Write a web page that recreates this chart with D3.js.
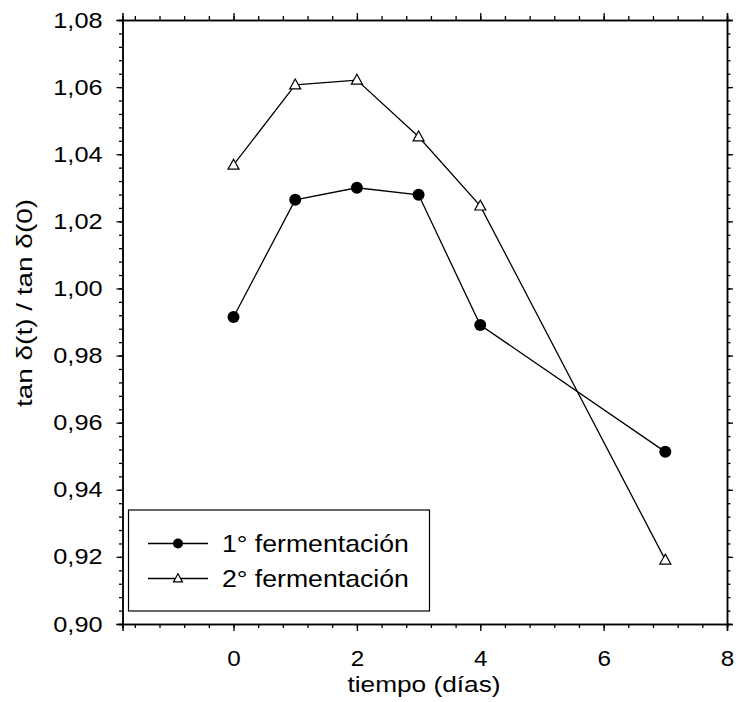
<!DOCTYPE html>
<html>
<head>
<meta charset="utf-8">
<script src="https://cdn.jsdelivr.net/npm/d3@7"></script>
<style>
  body { margin: 0; background: #fff; }
  text { font-family: "Liberation Sans", Arial, sans-serif; fill: #000; }
</style>
</head>
<body>
<svg id="chart" width="736" height="702"></svg>
<script>
// ---- data ----
const days = [0, 1, 2, 3, 4, 7];
const ferment1 = [0.9915, 1.0264, 1.0300, 1.0279, 0.9891, 0.9513];
const ferment2 = [1.0368, 1.0607, 1.0621, 1.0452, 1.0246, 0.9191];
const seriesNames = ["1° fermentación", "2° fermentación"];
const xTicks = [0, 2, 4, 6, 8];
const yTicks = [0.90, 0.92, 0.94, 0.96, 0.98, 1.00, 1.02, 1.04, 1.06, 1.08];
const xTitle = "tiempo (días)";
const yTitle = "tan δ(t) / tan δ(0)";

const svg = d3.select("#chart");
const x = d3.scaleLinear().domain([-1.8, 8]).range([122.5, 727]);
const y = d3.scaleLinear().domain([0.90, 1.08]).range([624, 20]);
const fmt = v => d3.format(".2f")(v).replace(".", ",");

const xMinor = d3.range(-1.6, 8.0001, 0.4).map(v => +v.toFixed(2));
const yMinor = d3.range(0.90, 1.0801, 0.004).map(v => +v.toFixed(3));

// axes
svg.append("g").attr("transform", `translate(0,${y(0.90)})`)
  .call(d3.axisBottom(x).tickValues(xMinor).tickSize(4).tickFormat(""));
const gB2 = svg.append("g").attr("transform", `translate(0,${y(0.90)})`)
  .call(d3.axisBottom(x).tickValues(xTicks).tickSize(7).tickPadding(19).tickFormat(d3.format("d")));
svg.append("g").attr("transform", `translate(0,${y(1.08)})`)
  .call(d3.axisTop(x).tickValues(xMinor).tickSize(4).tickFormat(""));
svg.append("g").attr("transform", `translate(0,${y(1.08)})`)
  .call(d3.axisTop(x).tickValues(xTicks).tickSize(7).tickFormat(""));
svg.append("g").attr("transform", `translate(${x(-1.8)},0)`)
  .call(d3.axisLeft(y).tickValues(yMinor).tickSize(3.5).tickFormat(""));
const gL2 = svg.append("g").attr("transform", `translate(${x(-1.8)},0)`)
  .call(d3.axisLeft(y).tickValues(yTicks).tickSize(6).tickPadding(14).tickFormat(fmt));
svg.append("g").attr("transform", `translate(${x(8)},0)`)
  .call(d3.axisRight(y).tickValues(yMinor).tickSize(3.5).tickFormat(""));
svg.append("g").attr("transform", `translate(${x(8)},0)`)
  .call(d3.axisRight(y).tickValues(yTicks).tickSize(6).tickFormat(""));

svg.selectAll(".domain").attr("stroke", "#000").attr("stroke-width", 1.5);
svg.selectAll(".tick line").attr("stroke", "#000").attr("stroke-width", 1.3);
svg.selectAll(".tick text").attr("font-size", 22).attr("fill", "#000")
  .style("font-family", "'Liberation Sans', Arial, sans-serif");

gB2.selectAll(".tick text").attr("transform", "scale(1.1,1)");
gL2.selectAll(".tick text").each(function() {
  const t = d3.select(this);
  const xx = +t.attr("x");
  t.attr("x", xx / 1.15).attr("transform", "scale(1.15,1)");
});

// titles
svg.append("text")
  .attr("transform", `translate(424,692) scale(1.22,1)`)
  .attr("text-anchor", "middle").attr("font-size", 21.5).text(xTitle);
svg.append("text")
  .attr("transform", `translate(32,303) rotate(-90) scale(1.3,1)`)
  .attr("text-anchor", "middle").attr("font-size", 21.5).text(yTitle);

// series
const line = d3.line().x(d => x(d[0])).y(d => y(d[1]));
const s1 = days.map((d, i) => [d, ferment1[i]]);
const s2 = days.map((d, i) => [d, ferment2[i]]);
const tri = s => `M0,${-s * 1.05}L${s},${s * 0.75}L${-s},${s * 0.75}Z`;

svg.append("path").datum(s1).attr("d", line).attr("fill", "none").attr("stroke", "#000").attr("stroke-width", 1.3);
svg.append("path").datum(s2).attr("d", line).attr("fill", "none").attr("stroke", "#000").attr("stroke-width", 1.3);
svg.selectAll(".c1").data(s1).enter().append("circle")
  .attr("cx", d => x(d[0])).attr("cy", d => y(d[1])).attr("r", 6).attr("fill", "#000");
svg.selectAll(".t2").data(s2).enter().append("path")
  .attr("transform", d => `translate(${x(d[0])},${y(d[1])})`)
  .attr("d", tri(5.5)).attr("fill", "#fff").attr("stroke", "#000").attr("stroke-width", 1.2);

// legend
const lg = svg.append("g");
lg.append("rect").attr("x", 128.5).attr("y", 510).attr("width", 301).attr("height", 101)
  .attr("fill", "#fff").attr("stroke", "#000").attr("stroke-width", 1.2);
const rows = [543.5, 578.5];
seriesNames.forEach((name, i) => {
  const yy = rows[i];
  lg.append("line").attr("x1", 148).attr("x2", 208).attr("y1", yy).attr("y2", yy)
    .attr("stroke", "#000").attr("stroke-width", 1.3);
  if (i === 0) {
    lg.append("circle").attr("cx", 178).attr("cy", yy).attr("r", 5).attr("fill", "#000");
  } else {
    lg.append("path").attr("transform", `translate(178,${yy})`).attr("d", tri(4.5))
      .attr("fill", "#fff").attr("stroke", "#000").attr("stroke-width", 1.2);
  }
  lg.append("text").attr("transform", `translate(222,${yy + 8.5}) scale(1.11,1)`)
    .attr("font-size", 24).text(name);
});
</script>
</body>
</html>
